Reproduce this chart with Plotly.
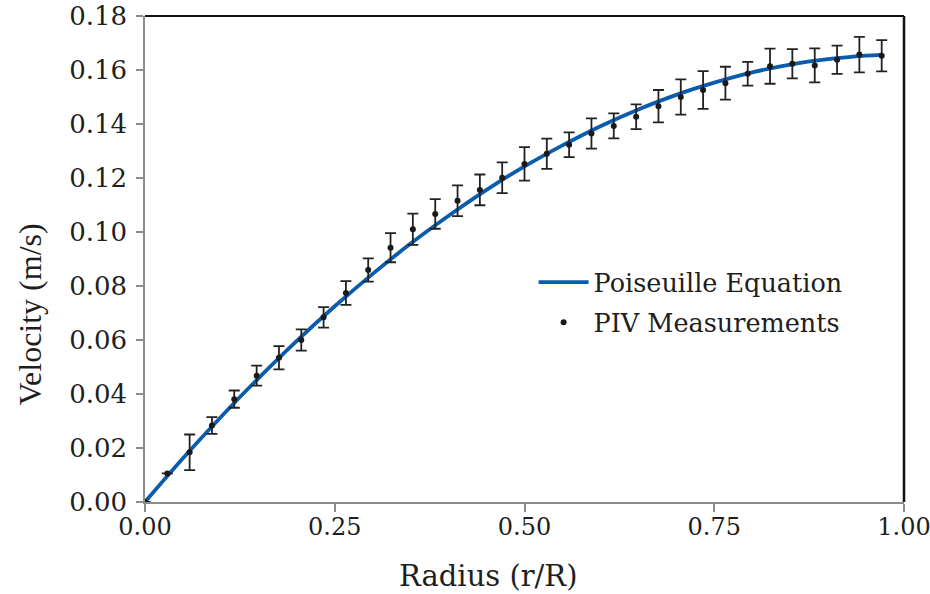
import plotly.graph_objects as go

# Poiseuille curve
curve_x = [0.00, 0.05, 0.10, 0.15, 0.20, 0.25, 0.30, 0.35, 0.40, 0.45, 0.50,
           0.55, 0.60, 0.65, 0.70, 0.75, 0.80, 0.85, 0.90, 0.95, 0.97]
curve_y = [0.0000, 0.0162, 0.0315, 0.0460, 0.0597, 0.0725, 0.0845, 0.0957, 0.1060, 0.1156, 0.1243,
           0.1321, 0.1392, 0.1454, 0.1508, 0.1553, 0.1591, 0.1620, 0.1640, 0.1653, 0.1656]

# PIV measurements
piv_x = [0.0000, 0.0294, 0.0588, 0.0882, 0.1176, 0.1471, 0.1765, 0.2059, 0.2353, 0.2647,
         0.2941, 0.3235, 0.3529, 0.3824, 0.4118, 0.4412, 0.4706, 0.5000, 0.5294, 0.5588,
         0.5882, 0.6176, 0.6471, 0.6765, 0.7059, 0.7353, 0.7647, 0.7941, 0.8235, 0.8529,
         0.8824, 0.9118, 0.9412, 0.9706]
piv_y = [0.0000, 0.0106, 0.0184, 0.0283, 0.0381, 0.0468, 0.0534, 0.0600, 0.0684, 0.0774,
         0.0859, 0.0942, 0.1010, 0.1067, 0.1116, 0.1156, 0.1201, 0.1252, 0.1290, 0.1323,
         0.1365, 0.1393, 0.1427, 0.1466, 0.1500, 0.1526, 0.1551, 0.1586, 0.1614, 0.1623,
         0.1617, 0.1638, 0.1657, 0.1653]
piv_err = [0.0000, 0.0000, 0.0066, 0.0031, 0.0032, 0.0037, 0.0043, 0.0039, 0.0038, 0.0044,
           0.0043, 0.0054, 0.0058, 0.0055, 0.0057, 0.0057, 0.0057, 0.0062, 0.0056, 0.0046,
           0.0056, 0.0046, 0.0046, 0.0060, 0.0065, 0.0070, 0.0061, 0.0044, 0.0065, 0.0054,
           0.0063, 0.0052, 0.0066, 0.0058]

x_ticks = [0.00, 0.25, 0.50, 0.75, 1.00]
x_ticklabels = ["0.00", "0.25", "0.50", "0.75", "1.00"]
y_ticks = [0.00, 0.02, 0.04, 0.06, 0.08, 0.10, 0.12, 0.14, 0.16, 0.18]
y_ticklabels = ["0.00", "0.02", "0.04", "0.06", "0.08", "0.10", "0.12", "0.14", "0.16", "0.18"]

x_title = "Radius (r/R)"
y_title = "Velocity (m/s)"

FONT = "DejaVu Serif"
FONT_V = "Liberation Serif"
BLUE = "#0B5CAD"
TXT = "#1e1e1e"

fig = go.Figure()
fig.add_trace(go.Scatter(
    x=curve_x, y=curve_y, mode="lines", name="Poiseuille Equation",
    line=dict(color=BLUE, width=3.8, shape="spline"),
    legendgroup="a",
))
fig.add_trace(go.Scatter(
    x=piv_x, y=piv_y, mode="markers", name="PIV Measurements",
    marker=dict(color="#1a1a1a", size=6),
    error_y=dict(type="data", array=piv_err, visible=True,
                 color="#222222", thickness=1.8, width=5.5),
    legendgroup="b",
))

fig.update_layout(
    width=930, height=594,
    margin=dict(l=145, r=26, t=16, b=92),
    paper_bgcolor="white", plot_bgcolor="white",
    font=dict(family=FONT, color=TXT, size=25),
    showlegend=True,
    legend=dict(x=0.512, y=0.50, xanchor="left", yanchor="top",
                bgcolor="rgba(0,0,0,0)", font=dict(size=25.5, family=FONT, color=TXT),
                traceorder="grouped", tracegroupgap=4, itemwidth=50),
    xaxis=dict(range=[0, 1.0], tickvals=x_ticks, ticktext=x_ticklabels,
               showgrid=False, zeroline=False, automargin=False,
               showline=True, linecolor="#8c8c8c", linewidth=1.5,
               ticks="outside", ticklen=8, tickcolor="#8c8c8c", tickwidth=1.5,
               tickfont=dict(size=24, family=FONT, color=TXT),
               ticklabelstandoff=-6, ticklabeloverflow="allow"),
    yaxis=dict(range=[0, 0.18], tickvals=y_ticks, ticktext=y_ticklabels,
               showgrid=False, zeroline=False, automargin=False,
               showline=True, linecolor="#8c8c8c", linewidth=1.5,
               ticks="outside", ticklen=7, tickcolor="#8c8c8c", tickwidth=1.5,
               tickfont=dict(size=26, family=FONT, color=TXT),
               ticklabelstandoff=4, ticklabeloverflow="allow"),
    annotations=[
        dict(text=x_title, xref="paper", yref="paper", x=0.452, y=-0.152,
             xanchor="center", yanchor="middle", showarrow=False,
             font=dict(size=29, family=FONT, color=TXT)),
        dict(text=y_title, xref="paper", yref="paper", x=-0.152, y=0.385,
             xanchor="center", yanchor="middle", showarrow=False, textangle=-90,
             font=dict(size=32, family=FONT_V, color=TXT)),
    ],
    shapes=[
        dict(type="line", xref="paper", yref="paper", x0=0, x1=1, y0=1, y1=1,
             line=dict(color="#111111", width=2)),
        dict(type="line", xref="paper", yref="paper", x0=1, x1=1, y0=0, y1=1,
             line=dict(color="#111111", width=2.5)),
    ],
)

fig.write_html("out.html")
